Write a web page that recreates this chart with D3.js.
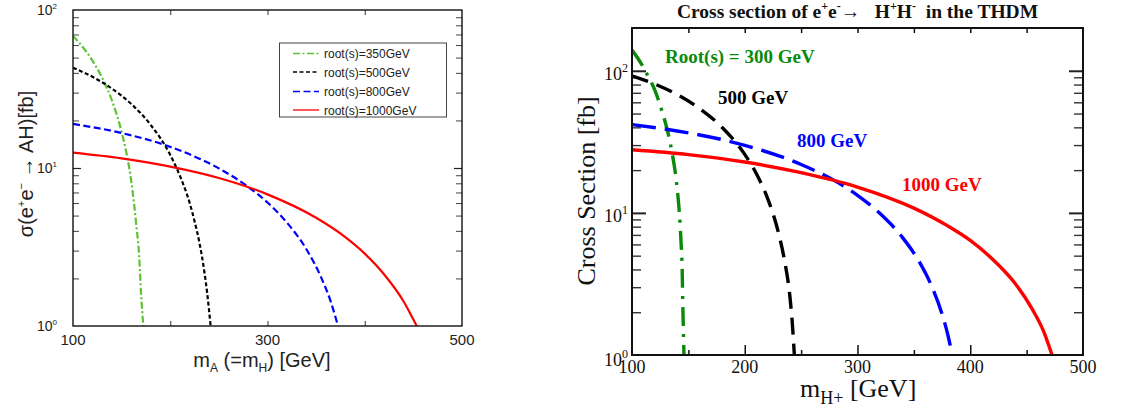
<!DOCTYPE html>
<html><head><meta charset="utf-8">
<script src="https://cdn.jsdelivr.net/npm/d3@7"></script>
<style>body{margin:0;background:#fff}svg{display:block}text{white-space:pre}</style>
</head><body><svg id="c" width="1130" height="415"></svg>
<script>
// ---------- data: left panel (e+e- -> AH) ----------
const leftNames = ["root(s)=350GeV", "root(s)=500GeV", "root(s)=800GeV", "root(s)=1000GeV"];
const leftX350 = [100, 110, 120, 130, 140, 150, 155, 160, 165, 168, 170, 172.3];
const leftY350 = [68.5, 58.3, 47.8, 37.2, 26.8, 16.9, 12.4, 8.2, 4.4, 2.8, 1.6, 1.0];
const leftX500 = [100, 120, 140, 160, 180, 200, 210, 220, 225, 230, 235, 238, 241.5];
const leftY500 = [43.1, 37.8, 31.8, 25.4, 18.7, 12.1, 8.9, 6.0, 4.6, 3.37, 2.22, 1.61, 1.0];
const leftX800 = [100, 150, 200, 250, 280, 300, 320, 340, 355, 365, 372.5];
const leftY800 = [19.0, 16.65, 13.6, 9.94, 7.6, 6.05, 4.51, 3.06, 2.04, 1.43, 1.0];
const leftX1000 = [100, 150, 200, 250, 300, 350, 380, 400, 420, 440, 450, 453.5];
const leftY1000 = [12.5, 11.5, 10.2, 8.64, 6.81, 4.84, 3.65, 2.87, 2.12, 1.43, 1.10, 1.0];
const leftXTickLabels = [100, 300, 500];
const leftXTicks = [200, 300, 400];
const leftYDecades = [1, 10, 100];

// ---------- data: right panel (e+e- -> H+H-) ----------
const rightNames = ["Root(s) = 300 GeV", "500 GeV", "800 GeV", "1000 GeV"];
const rightX300 = [100, 105, 110, 115, 120, 125, 130, 135, 140, 142, 143.5, 144.5, 145.2, 146.1];
const rightY300 = [140, 123, 106, 89, 74, 57, 42, 28, 15, 10, 6.2, 4, 2, 1];
const rightX500 = [100, 120, 140, 160, 180, 200, 210, 220, 225, 230, 235, 240, 242, 244];
const rightY500 = [92, 80.7, 68, 54.2, 39.9, 25.8, 19.1, 12.8, 9.9, 7.2, 4.75, 2.6, 1.75, 1.0];
const rightX800 = [100, 150, 200, 250, 280, 300, 320, 340, 355, 365, 375, 380, 384];
const rightY800 = [41.8, 36.6, 29.9, 21.9, 16.8, 13.3, 9.9, 6.7, 4.5, 3.15, 1.94, 1.4, 1.0];
const rightX1000 = [100, 150, 200, 250, 300, 350, 380, 400, 420, 440, 455, 465, 472.5];
const rightY1000 = [27.8, 25.7, 22.8, 19.2, 15.2, 10.8, 8.1, 6.4, 4.7, 3.17, 2.1, 1.47, 1.0];
const rightXTickLabels = [100, 200, 300, 400, 500];
const rightXMajor = [200, 300, 400];
const rightXMinor = [150, 250, 350, 450];
const rightYDecades = [1, 10, 100];

// ---------- drawing ----------
const svg = d3.select("#c");
const zip = (xs, ys) => xs.map((x, i) => [x, ys[i]]);
const minorLog = [2,3,4,5,6,7,8,9,20,30,40,50,60,70,80,90];

function drawTicks(g, axisFn, scale, vals, size, tr, color, sw) {
  const a = g.append("g").attr("transform", tr)
    .call(axisFn(scale).tickValues(vals).tickSize(size).tickFormat(""));
  a.select(".domain").remove();
  a.selectAll("line").attr("stroke", color).attr("stroke-width", sw);
}

// ===== LEFT PANEL =====
const xL = d3.scaleLinear([100, 500], [73, 462]);
const yL = d3.scaleLog([1, 100], [326, 10]);
const L = svg.append("g");
const SANS = "Liberation Sans, Arial, sans-serif";

drawTicks(L, d3.axisBottom, xL, leftXTicks, -5, "translate(0,326)", "#333", 1);
drawTicks(L, d3.axisTop, xL, leftXTicks, -5, "translate(0,10)", "#333", 1);
drawTicks(L, d3.axisLeft, yL, minorLog, -6, "translate(73,0)", "#444", 1);
drawTicks(L, d3.axisRight, yL, minorLog, -6, "translate(462,0)", "#444", 1);
drawTicks(L, d3.axisLeft, yL, [10], -8, "translate(73,0)", "#222", 1.2);
drawTicks(L, d3.axisRight, yL, [10], -8, "translate(462,0)", "#222", 1.2);

const leftSeries = [
  {d: zip(leftX350, leftY350), c: "#5ec234", dash: "7,2.5,2,2.5"},
  {d: zip(leftX500, leftY500), c: "#000", dash: "4,2.5"},
  {d: zip(leftX800, leftY800), c: "#0000ff", dash: "7,3.5"},
  {d: zip(leftX1000, leftY1000), c: "#ff0000", dash: null}
];
const lineL = d3.line().x(d => xL(d[0])).y(d => yL(d[1])).curve(d3.curveMonotoneX);
L.append("defs").append("clipPath").attr("id", "clipL").append("rect")
  .attr("x", 73).attr("y", 10).attr("width", 389).attr("height", 316);
leftSeries.forEach(s => {
  L.append("path").attr("d", lineL(s.d)).attr("fill", "none")
    .attr("stroke", s.c).attr("stroke-width", 2.2)
    .attr("stroke-dasharray", s.dash).attr("clip-path", "url(#clipL)");
});
L.append("rect").attr("x", 73).attr("y", 10).attr("width", 389).attr("height", 316)
  .attr("fill", "none").attr("stroke", "#111").attr("stroke-width", 1.4);

// x tick labels
leftXTickLabels.forEach(v => {
  L.append("text").attr("x", xL(v)).attr("y", 345).attr("text-anchor", "middle")
    .attr("font-family", SANS).attr("font-size", 15).attr("fill", "#222").text(v);
});
// y tick labels 10^n
leftYDecades.forEach((v, i) => {
  const t = L.append("text").attr("x", 57).attr("y", yL(v) + 5).attr("text-anchor", "end")
    .attr("font-family", SANS).attr("font-size", 14).attr("fill", "#222");
  t.append("tspan").text("10");
  t.append("tspan").attr("font-size", 8).attr("dy", -6).text(String(i));
});
// legend
const lg = L.append("g");
lg.append("rect").attr("x", 279.5).attr("y", 43).attr("width", 167).attr("height", 74)
  .attr("fill", "#fff").attr("stroke", "#444").attr("stroke-width", 1);
const legY = [53.5, 72, 91.5, 110];
leftSeries.forEach((s, i) => {
  lg.append("line").attr("x1", 293).attr("x2", 319).attr("y1", legY[i]).attr("y2", legY[i])
    .attr("stroke", s.c).attr("stroke-width", 1.3).attr("stroke-dasharray", s.dash);
  lg.append("text").attr("x", 324).attr("y", legY[i] + 4.5).attr("font-family", SANS)
    .attr("font-size", 12).attr("fill", "#222").text(leftNames[i]);
});
// axis titles
const xtl = L.append("text").attr("x", 262).attr("y", 367).attr("text-anchor", "middle")
  .attr("font-family", SANS).attr("font-size", 20).attr("fill", "#222");
xtl.append("tspan").text("m");
xtl.append("tspan").attr("font-size", 12).attr("dy", 5).text("A");
xtl.append("tspan").attr("dy", -5).text(" (=m");
xtl.append("tspan").attr("font-size", 12).attr("dy", 5).text("H");
xtl.append("tspan").attr("dy", -5).text(") [GeV]");
const ytl = L.append("text").attr("transform", "translate(33,164) rotate(-90)")
  .attr("text-anchor", "middle").attr("font-family", SANS).attr("font-size", 20).attr("fill", "#222");
ytl.append("tspan").text("σ(e");
ytl.append("tspan").attr("font-size", 11).attr("dy", -8).text("+");
ytl.append("tspan").attr("dy", 8).text("e");
ytl.append("tspan").attr("font-size", 11).attr("dy", -8).text("−");
ytl.append("tspan").attr("dy", 8).text(" → AH)[fb]");

// ===== RIGHT PANEL =====
const xR = d3.scaleLinear([100, 500], [632, 1083]);
const yR = d3.scaleLog([1, 200], [355, 28]);
const R = svg.append("g");
const SERIF = "Liberation Serif, Times New Roman, serif";

drawTicks(R, d3.axisBottom, xR, rightXMajor, -10, "translate(0,355)", "#111", 1.5);
drawTicks(R, d3.axisBottom, xR, rightXMinor, -5, "translate(0,355)", "#111", 1.5);
drawTicks(R, d3.axisTop, xR, rightXMajor.concat(rightXMinor), -5, "translate(0,28)", "#111", 1.5);
drawTicks(R, d3.axisLeft, yR, minorLog, -9, "translate(632,0)", "#333", 1.4);
drawTicks(R, d3.axisRight, yR, minorLog, -9, "translate(1083,0)", "#333", 1.4);
drawTicks(R, d3.axisLeft, yR, [10, 100], -14, "translate(632,0)", "#222", 2);
drawTicks(R, d3.axisRight, yR, [10, 100], -14, "translate(1083,0)", "#222", 2);

const rightSeries = [
  {d: zip(rightX300, rightY300), c: "#0a8a0a", dash: "19,8,3,8"},
  {d: zip(rightX500, rightY500), c: "#000", dash: "17,9"},
  {d: zip(rightX800, rightY800), c: "#0000ff", dash: "24,9"},
  {d: zip(rightX1000, rightY1000), c: "#ff0000", dash: null}
];
const lineR = d3.line().x(d => xR(d[0])).y(d => yR(d[1])).curve(d3.curveMonotoneX);
R.append("defs").append("clipPath").attr("id", "clipR").append("rect")
  .attr("x", 632).attr("y", 28).attr("width", 451).attr("height", 327);
rightSeries.forEach(s => {
  R.append("path").attr("d", lineR(s.d)).attr("fill", "none")
    .attr("stroke", s.c).attr("stroke-width", 3.4)
    .attr("stroke-dasharray", s.dash).attr("clip-path", "url(#clipR)");
});
R.append("rect").attr("x", 632).attr("y", 28).attr("width", 451).attr("height", 327)
  .attr("fill", "none").attr("stroke", "#111").attr("stroke-width", 2);

rightXTickLabels.forEach(v => {
  R.append("text").attr("x", xR(v)).attr("y", 373).attr("text-anchor", "middle")
    .attr("font-family", SERIF).attr("font-size", 18).attr("fill", "#111").text(v);
});
rightYDecades.forEach((v, i) => {
  const t = R.append("text").attr("x", 628).attr("y", yR(v) + (i === 0 ? 11 : 9)).attr("text-anchor", "end")
    .attr("font-family", SERIF).attr("font-size", 18).attr("fill", "#111");
  t.append("tspan").text("10");
  t.append("tspan").attr("font-size", 12).attr("dy", -8).text(String(i));
});

// curve labels
const labPos = [[665, 63], [718, 104], [797, 147], [902, 191]];
rightSeries.forEach((s, i) => {
  R.append("text").attr("x", labPos[i][0]).attr("y", labPos[i][1])
    .attr("font-family", SERIF).attr("font-weight", "bold").attr("font-size", 19)
    .attr("fill", s.c).text(rightNames[i]);
});

// title
const tt = R.append("text").attr("x", 857.5).attr("y", 18).attr("text-anchor", "middle")
  .attr("font-family", SERIF).attr("font-weight", "bold").attr("font-size", 19.5).attr("fill", "#111");
tt.append("tspan").text("Cross section of e");
tt.append("tspan").attr("font-size", 12).attr("dy", -8).text("+");
tt.append("tspan").attr("dy", 8).text("e");
tt.append("tspan").attr("font-size", 12).attr("dy", -8).text("-");
tt.append("tspan").attr("dy", 8).text("\u2192   H");
tt.append("tspan").attr("font-size", 12).attr("dy", -8).text("+");
tt.append("tspan").attr("dy", 8).text("H");
tt.append("tspan").attr("font-size", 12).attr("dy", -8).text("-");
tt.append("tspan").attr("dy", 8).text("  in the THDM");

// axis titles
const xtr = R.append("text").attr("x", 800).attr("y", 397)
  .attr("font-family", SERIF).attr("font-size", 26).attr("fill", "#111");
xtr.append("tspan").text("m");
xtr.append("tspan").attr("font-size", 18).attr("dy", 7).text("H+");
xtr.append("tspan").attr("dy", -7).text(" [GeV]");
R.append("text").attr("transform", "translate(595,191) rotate(-90)").attr("text-anchor", "middle")
  .attr("font-family", SERIF).attr("font-size", 26).attr("fill", "#111").text("Cross Section [fb]");
</script></body></html>
